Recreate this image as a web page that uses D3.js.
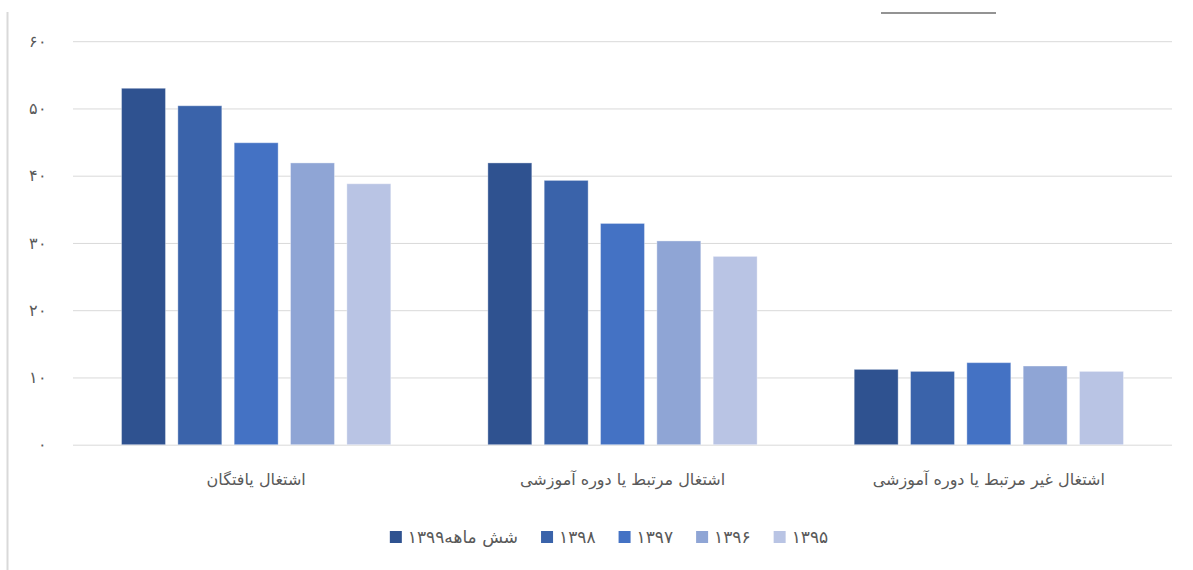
<!DOCTYPE html>
<html><head><meta charset="utf-8">
<script src="https://cdn.jsdelivr.net/npm/d3@7"></script>
<style>
html,body{margin:0;padding:0;background:#fff;}
svg{display:block;font-family:"DejaVu Sans",sans-serif;}
</style></head>
<body>
<svg id="chart" width="1193" height="570"></svg>
<script>
const categories = ["اشتغال یافتگان", "اشتغال مرتبط یا دوره آموزشی", "اشتغال غیر مرتبط یا دوره آموزشی"];
const seriesNames = ["شش ماهه۱۳۹۹", "۱۳۹۸", "۱۳۹۷", "۱۳۹۶", "۱۳۹۵"];
const s1399 = [53.0, 41.9, 11.2];
const s1398 = [50.4, 39.3, 10.9];
const s1397 = [44.9, 32.9, 12.2];
const s1396 = [41.9, 30.3, 11.7];
const s1395 = [38.8, 28.0, 10.9];
const seriesValues = [s1399, s1398, s1397, s1396, s1395];
const yTicks = [0, 10, 20, 30, 40, 50, 60];
const colors = ["#2f5290", "#3a63aa", "#4472c4", "#8fa5d5", "#b9c4e4"];

const toFa = s => String(s).replace(/\d/g, d => "۰۱۲۳۴۵۶۷۸۹"[+d]);

const svg = d3.select("#chart");
const plotLeft = 73, plotRight = 1172, plotTop = 41.2, plotBottom = 444.7;

const x0 = d3.scaleBand().domain(categories).range([plotLeft, plotRight]).paddingInner(0.265).paddingOuter(0.1325);
const x1 = d3.scaleBand().domain(seriesNames).range([0, x0.bandwidth()]).paddingInner(0.22).paddingOuter(0);
const y = d3.scaleLinear().domain([0, 60]).range([plotBottom, plotTop]);

// frame decorations
svg.append("line").attr("x1", 7.5).attr("x2", 7.5).attr("y1", 12).attr("y2", 570)
  .attr("stroke", "#d9d9d9").attr("stroke-width", 2);
svg.append("line").attr("x1", 881).attr("x2", 996).attr("y1", 13).attr("y2", 13)
  .attr("stroke", "#6f6f6f").attr("stroke-width", 1.5);

// gridlines
const yAxis = d3.axisLeft(y).tickValues(yTicks).tickSize(-(plotRight - plotLeft)).tickPadding(26).tickFormat(d => toFa(d));
const gy = svg.append("g").attr("transform", `translate(${plotLeft},0)`).call(yAxis);
gy.select(".domain").remove();
gy.selectAll(".tick line").attr("stroke", "#d9d9d9").attr("stroke-width", 1);
gy.selectAll(".tick text").attr("fill", "#595959").style("font-size", "16px");

// bars
const groups = svg.append("g").selectAll("g").data(categories).join("g")
  .attr("transform", d => `translate(${x0(d)},0)`);
groups.selectAll("rect").data((c, ci) => seriesNames.map((s, si) => ({s, si, v: seriesValues[si][ci]})))
  .join("rect")
  .attr("x", d => x1(d.s))
  .attr("width", x1.bandwidth())
  .attr("y", d => y(d.v))
  .attr("height", d => y(0) - y(d.v))
  .attr("fill", d => colors[d.si])
  .attr("stroke", "rgba(255,255,255,0.35)").attr("stroke-width", 1);

// category axis labels
svg.append("g").selectAll("text").data(categories).join("text")
  .attr("x", d => x0(d) + x0.bandwidth() / 2)
  .attr("y", 485)
  .attr("text-anchor", "middle")
  .attr("fill", "#595959")
  .style("font-size", "16px")
  .text(d => d);

// legend
const lg = svg.append("g");
const items = lg.selectAll("g").data(seriesNames).join("g");
items.append("rect").attr("width", 12).attr("height", 12).attr("y", 531)
  .attr("fill", (d, i) => colors[i]);
items.append("text").attr("x", 18).attr("y", 543).attr("fill", "#595959")
  .style("font-size", "17px").text(d => d);
let widths = [];
items.each(function () { widths.push(18 + this.querySelector("text").getComputedTextLength()); });
const gap = 23;
const total = d3.sum(widths) + gap * (widths.length - 1);
let cx = 609 - total / 2;
items.attr("transform", (d, i) => { const t = `translate(${cx},0)`; cx += widths[i] + gap; return t; });
</script>
</body></html>
